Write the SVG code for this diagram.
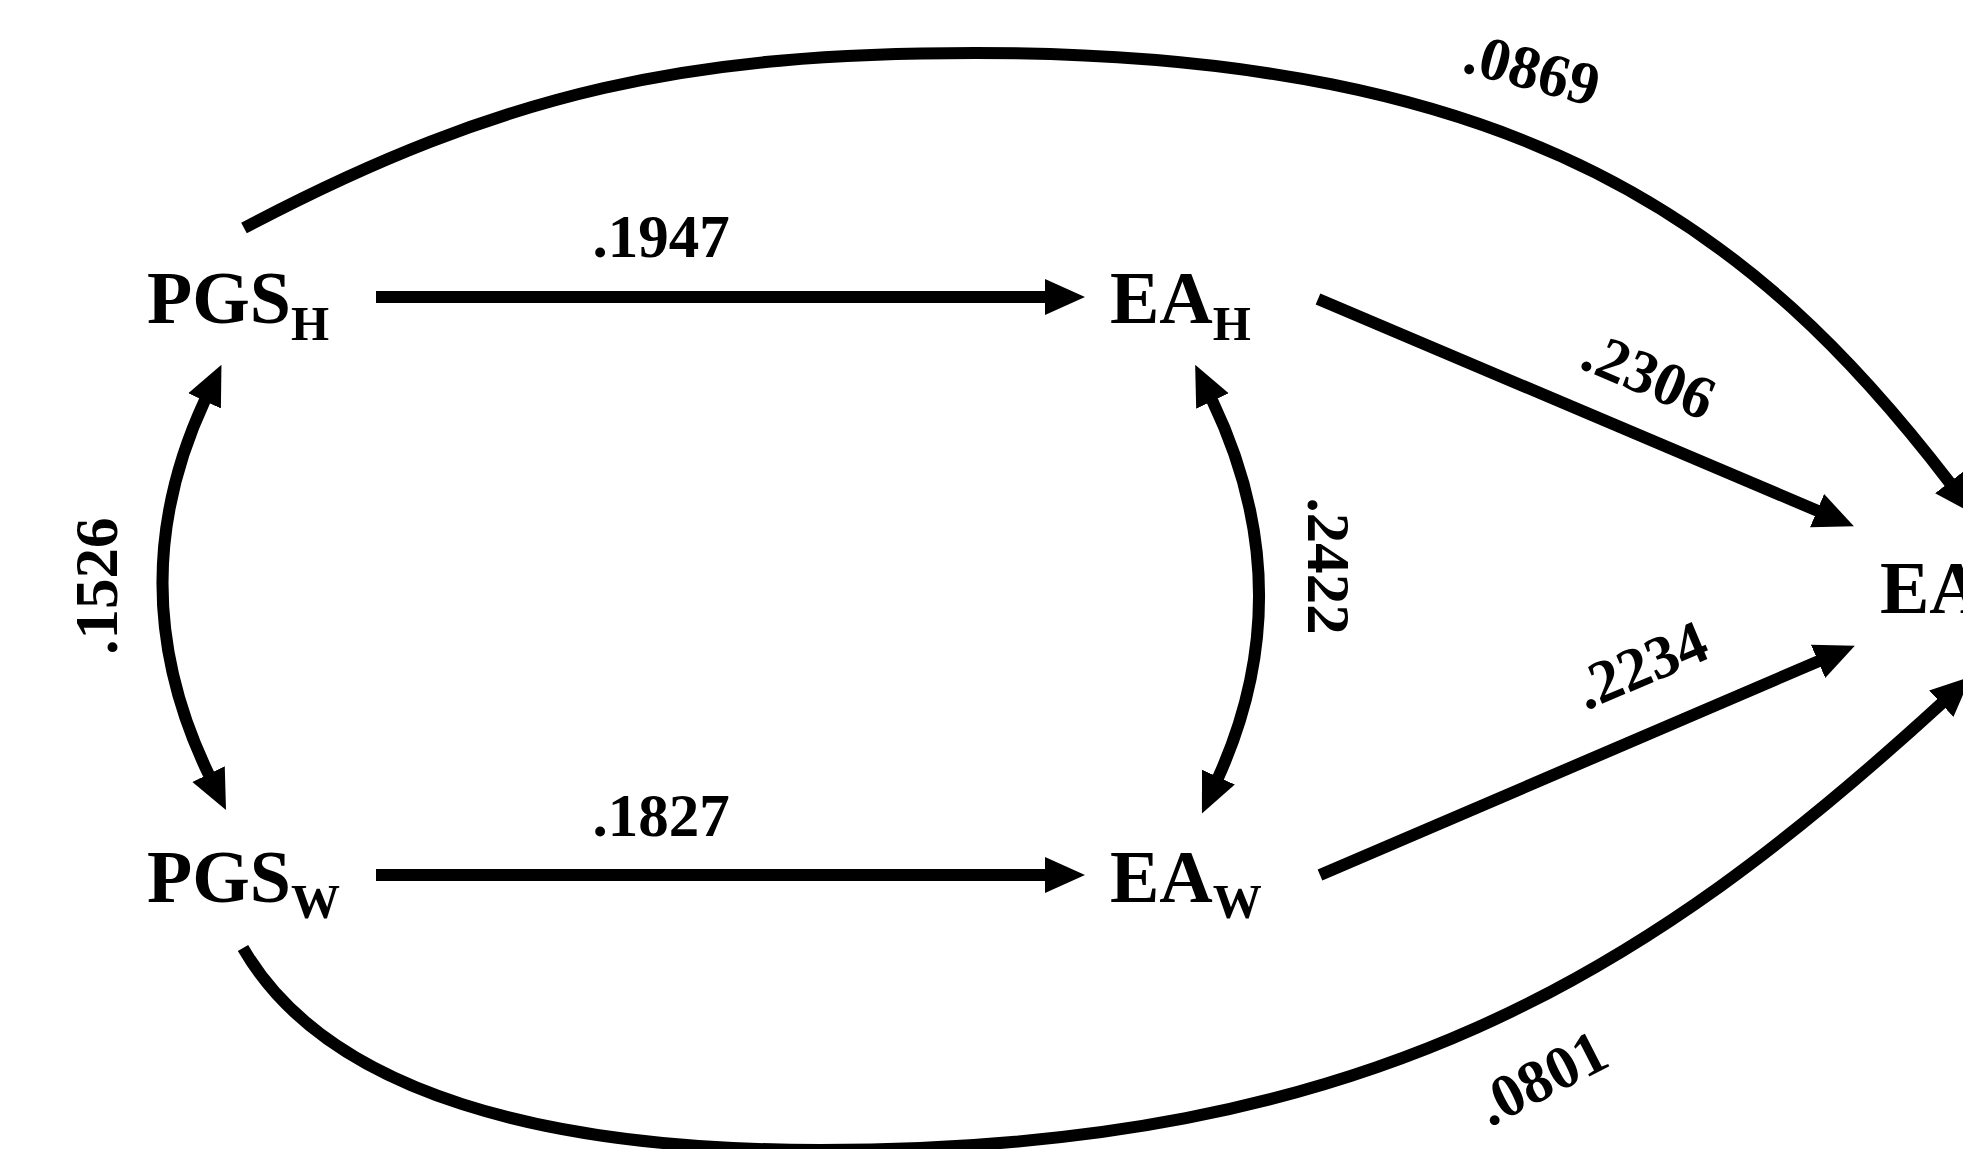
<svg xmlns="http://www.w3.org/2000/svg" width="1963" height="1149" viewBox="0 0 1963 1149">
<style>
.node{font-family:"Liberation Serif","Times New Roman",serif;font-weight:bold;font-size:74px;fill:#000}
.sub{font-size:49px}
.lbl{font-family:"Liberation Serif","Times New Roman",serif;font-weight:bold;font-size:61px;fill:#000;text-anchor:middle}
.edge{fill:none;stroke:#000;stroke-width:12}
</style>
<defs>
<marker id="ah" markerUnits="userSpaceOnUse" viewBox="0 -19 40 38" refX="1" refY="0" markerWidth="40" markerHeight="38" orient="auto">
<path d="M0,-18 L40,0 L0,18 Z" fill="#000"/>
</marker>
<marker id="ahs" markerUnits="userSpaceOnUse" viewBox="0 -19 40 38" refX="1" refY="0" markerWidth="40" markerHeight="38" orient="auto-start-reverse">
<path d="M0,-18 L40,0 L0,18 Z" fill="#000"/>
</marker>
</defs>
<rect width="1963" height="1149" fill="#fff"/>
<g id="connectors">
<path class="edge" d="M376,297 L1046,297" marker-end="url(#ah)"/>
<path class="edge" d="M376,875 L1046,875" marker-end="url(#ah)"/>
<path class="edge" d="M1318,299 L1818,511" marker-end="url(#ah)"/>
<path class="edge" d="M1320,875 L1819,661" marker-end="url(#ah)"/>
<path class="edge" d="M205,400 Q118,587 209,775" marker-start="url(#ahs)" marker-end="url(#ah)"/>
<path class="edge" d="M1212,400 Q1303,590 1218,778" marker-start="url(#ahs)" marker-end="url(#ah)"/>
<path class="edge" d="M244,228 C509,88 695,53 975,53 C1525,53 1755,229 1950,483" marker-end="url(#ah)"/>
<path class="edge" d="M243,948 C328,1095 550,1150 820,1150 C1370,1150 1647,973 1942,703" marker-end="url(#ah)"/>
<text class="lbl" x="661" y="257">.1947</text>
<text class="lbl" x="661" y="836">.1827</text>
<text class="lbl" transform="translate(117,586) rotate(-90)">.1526</text>
<text class="lbl" transform="translate(1308,566) rotate(90)">.2422</text>
<text class="lbl" transform="translate(1641,394) rotate(23)">.2306</text>
<text class="lbl" transform="translate(1649,684) rotate(-23)">.2234</text>
<text class="lbl" transform="translate(1527,89) rotate(15)">.0869</text>
<text class="lbl" transform="translate(1551,1096) rotate(-27)">.0801</text>
</g>
<g id="node-pgs-h"><text class="node" x="147" y="323">PGS<tspan class="sub" dy="17">H</tspan></text></g>
<g id="node-ea-h"><text class="node" x="1110" y="323">EA<tspan class="sub" dy="17">H</tspan></text></g>
<g id="node-pgs-w"><text class="node" x="147" y="902">PGS<tspan class="sub" dy="16">W</tspan></text></g>
<g id="node-ea-w"><text class="node" x="1110" y="902">EA<tspan class="sub" dy="16">W</tspan></text></g>
<g id="node-ea"><text class="node" x="1880" y="613">EA</text></g>
</svg>
